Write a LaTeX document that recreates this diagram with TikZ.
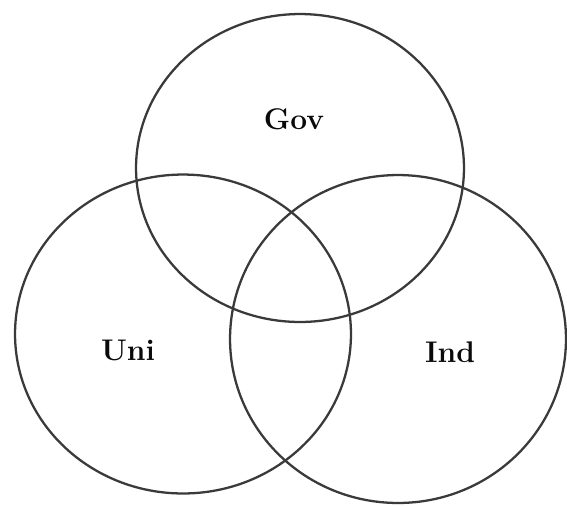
\documentclass[tikz,border=0pt]{standalone}
\usepackage{xcolor}
\usepackage{tikz}
\usetikzlibrary{shapes.geometric}
\definecolor{vline}{HTML}{3A3A3A}
\definecolor{vtext}{HTML}{0A0A0A}
\tikzset{
  v/.style  = {draw=vline, ellipse, line width=1.3pt, inner sep=0pt},
  vl/.style = {text=vtext, inner sep=0pt,
               font=\fontsize{17}{20}\selectfont\bfseries},
}
\begin{document}
\begin{tikzpicture}[x=0.02cm, y=-0.02cm]
\useasboundingbox (0,0) rectangle (567,505);

% ---- the three sets
\node[v, minimum width=6.56cm, minimum height=6.16cm] (gov) at (300,168) {};
\node[v, minimum width=6.72cm, minimum height=6.38cm] (uni) at (183,334) {};
\node[v, minimum width=6.72cm, minimum height=6.56cm] (ind) at (398,339) {};

% ---- names
\node[vl] (govl) at (294,119) {Gov};
\node[vl] (unil) at (128,350) {Uni};
\node[vl] (indl) at (450,352) {Ind};

\end{tikzpicture}
\end{document}
